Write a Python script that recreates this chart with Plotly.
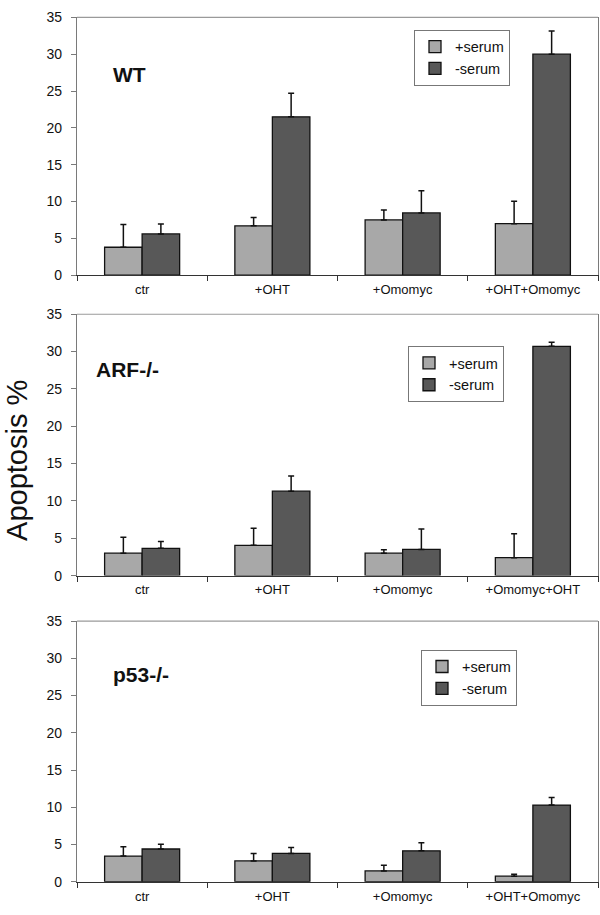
import plotly.graph_objects as go

# ---------------- data ----------------
cats_wt = ["ctr", "+OHT", "+Omomyc", "+OHT+Omomyc"]
cats_arf = ["ctr", "+OHT", "+Omomyc", "+Omomyc+OHT"]
cats_p53 = ["ctr", "+OHT", "+Omomyc", "+OHT+Omomyc"]

wt_plus = [3.8, 6.7, 7.5, 7.0]
wt_plus_err = [3.1, 1.15, 1.35, 3.05]
wt_minus = [5.6, 21.5, 8.45, 30.0]
wt_minus_err = [1.35, 3.2, 3.0, 3.15]

arf_plus = [3.0, 4.05, 3.0, 2.4]
arf_plus_err = [2.15, 2.3, 0.45, 3.2]
arf_minus = [3.65, 11.3, 3.5, 30.7]
arf_minus_err = [0.9, 2.05, 2.75, 0.55]

p53_plus = [3.45, 2.8, 1.45, 0.75]
p53_plus_err = [1.25, 1.0, 0.75, 0.25]
p53_minus = [4.4, 3.8, 4.15, 10.3]
p53_minus_err = [0.65, 0.8, 1.1, 1.0]

y_ticks = [0, 5, 10, 15, 20, 25, 30, 35]
series_names = ["+serum", "-serum"]
panel_labels = ["WT", "ARF-/-", "p53-/-"]
y_title = "Apoptosis %"

# ---------------- style ----------------
W, H = 600, 915
LIGHT = "#a8a8a8"
DARK = "#585858"
FONT = "Liberation Sans, Arial, sans-serif"

x_dom = [77 / W, 598 / W]
# (top pixel, bottom pixel) of each plot area
panels_px = [(9.5, 272.0), (311.7, 577.7), (624.0, 889.3)]
legend_pos = [(414, 22), (408, 344), (421, 653)]
label_pos = [(129, 68), (127, 368), (141, 678)]

panels = [
    (cats_wt, wt_plus, wt_plus_err, wt_minus, wt_minus_err),
    (cats_arf, arf_plus, arf_plus_err, arf_minus, arf_minus_err),
    (cats_p53, p53_plus, p53_plus_err, p53_minus, p53_minus_err),
]

fig = go.Figure()
layout = dict(
    width=W, height=H,
    margin=dict(l=0, r=0, t=0, b=0),
    paper_bgcolor="white", plot_bgcolor="white",
    barmode="group", bargap=0.424, bargroupgap=0,
    font=dict(family=FONT, color="#111"),
    annotations=[], shapes=[],
)

for i, (cats, p, pe, m, me) in enumerate(panels):
    n = "" if i == 0 else str(i + 1)
    xa, ya = "x" + n, "y" + n
    leg = "legend" + n
    for name, vals, errs, col in [(series_names[0], p, pe, LIGHT), (series_names[1], m, me, DARK)]:
        fig.add_trace(go.Bar(
            x=cats, y=vals, name=name, xaxis=xa, yaxis=ya, legend=leg,
            marker=dict(color=col, line=dict(color="#111", width=1.3)),
            error_y=dict(type="data", symmetric=False, array=errs,
                         arrayminus=[0] * len(errs), color="#111",
                         thickness=1.5, width=3),
            showlegend=True,
        ))
    top, bot = panels_px[i]
    y_dom = [1 - bot / H, 1 - top / H]
    layout["xaxis" + n] = dict(
        domain=x_dom, anchor=ya, type="category",
        showline=True, linecolor="#333", linewidth=1.2,
        ticks="outside", tickson="boundaries", ticklen=5, tickcolor="#333",
        tickfont=dict(size=13, color="#111"), showgrid=False,
        ticklabelstandoff=2, fixedrange=True,
    )
    layout["yaxis" + n] = dict(
        domain=y_dom, anchor=xa, range=[0, 35], tickvals=y_ticks,
        showline=True, linecolor="#7a7a7a", linewidth=1.2, mirror=True,
        ticks="outside", ticklen=5, tickcolor="#7a7a7a",
        tickfont=dict(size=14, color="#111"), showgrid=False, zeroline=False,
        ticklabelstandoff=6, fixedrange=True,
    )
    # top border of plot area
    layout["shapes"].append(dict(
        type="line", xref=xa + " domain", yref=ya + " domain",
        x0=0, x1=1, y0=1, y1=1, line=dict(color="#9a9a9a", width=1.2),
    ))
    lx, ly = legend_pos[i]
    layout[leg] = dict(
        x=lx / W, y=1 - ly / H, xanchor="left", yanchor="top",
        bordercolor="#777", borderwidth=1, bgcolor="white",
        font=dict(size=14.5, color="#111", family=FONT),
        tracegroupgap=0, itemclick=False, itemdoubleclick=False,
    )
    px_, py_ = label_pos[i]
    layout["annotations"].append(dict(
        text="<b>%s</b>" % panel_labels[i], x=px_ / W, y=1 - py_ / H,
        xref="paper", yref="paper", showarrow=False,
        xanchor="center", yanchor="middle",
        font=dict(size=21, color="#111", family=FONT),
    ))

layout["annotations"].append(dict(
    text=y_title, x=17 / W, y=1 - 461 / H, xref="paper", yref="paper",
    showarrow=False, textangle=-90, xanchor="center", yanchor="middle",
    font=dict(size=29, color="#111", family=FONT),
))

fig.update_layout(**layout)
fig.write_html(
    "out.html",
    config={"displayModeBar": False, "staticPlot": True},
    post_script="document.body.style.margin='0';document.body.style.overflow='hidden';",
)
